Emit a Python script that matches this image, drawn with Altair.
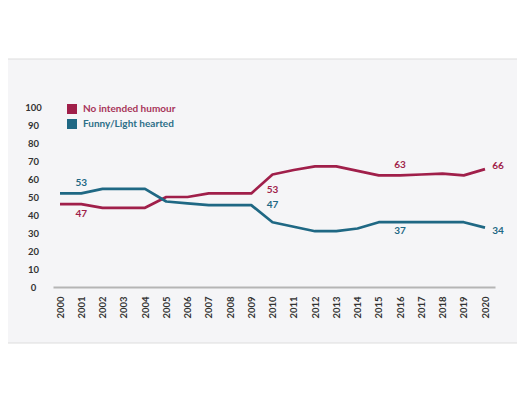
import altair as alt
import pandas as pd

years = list(range(2000, 2021))
no_humour = [46, 46, 44, 44, 44, 50, 50, 52, 52, 52, 62.5, 65, 67, 67, 64.5, 62, 62, 62.5, 63, 62, 65.5]
funny = [52, 52, 54.5, 54.5, 54.5, 47.5, 46.5, 45.5, 45.5, 45.5, 36, 33.5, 31, 31, 32.5, 36, 36, 36, 36, 36, 33]
series_names = ["No intended humour", "Funny/Light hearted"]
series_colors = ["#a01f4a", "#1f6884"]
legend_text_colors = ["#a8345a", "#2c6f88"]
y_ticks = [0, 10, 20, 30, 40, 50, 60, 70, 80, 90, 100]

label_series = ["Funny/Light hearted", "No intended humour", "No intended humour", "Funny/Light hearted",
                "No intended humour", "Funny/Light hearted", "No intended humour", "Funny/Light hearted"]
label_years = [2001, 2001, 2010, 2010, 2016, 2016, 2020, 2020]
label_texts = ["53", "47", "53", "47", "63", "37", "66", "34"]
# label offsets (style only)
label_dx = [0, 0, 0, 0, 0, 0, 13, 13]
label_dy = [-10, 10, 15, -17, -10, 8.5, -3, 3]

FONT = "Lato"
W, H = 442, 180

df = pd.DataFrame({
    "year": years * 2,
    "value": no_humour + funny,
    "series": [series_names[0]] * len(years) + [series_names[1]] * len(years),
})
lookup = {(s, y): v for s, y, v in zip(df["series"], df["year"], df["value"])}

xscale = alt.Scale(domain=[1999.67, 2020.47], nice=False, zero=False)
yscale = alt.Scale(domain=[0, 100], nice=False)
cscale = alt.Scale(domain=series_names, range=series_colors)

x_axis = alt.Axis(values=years, format="d", labelAngle=-90, title=None, grid=False,
                  ticks=False, labelPadding=9, labelFont=FONT, labelFontWeight="bold",
                  labelFontSize=9.5, labelColor="#333333", domainColor="#b5b5b5",
                  domainWidth=2, zindex=1, labelOverlap=False)
y_axis = alt.Axis(values=y_ticks, title=None, grid=False, ticks=False,
                  domain=False, labelAlign="center", labelPadding=20, labelFont=FONT,
                  labelFontWeight="bold", labelFontSize=9.5, labelColor="#333333",
                  zindex=1, labelOverlap=False)

panel = alt.Chart(pd.DataFrame({"a": [0]})).mark_rect(
    fill="#f5f5f7", stroke="#dddddd", strokeWidth=1
).encode(x=alt.value(-46), x2=alt.value(466), y=alt.value(-48), y2=alt.value(236))

lines = alt.Chart(df).mark_line(strokeWidth=2.7, strokeJoin="round").encode(
    x=alt.X("year:Q", scale=xscale, axis=x_axis),
    y=alt.Y("value:Q", scale=yscale, axis=y_axis),
    stroke=alt.Stroke("series:N", scale=cscale, legend=None),
    detail="series:N",
)

layers = [panel, lines]

# manual legend (squares + coloured labels)
legend_rows = [2, 17]
for name, col, tcol, ry in zip(series_names, series_colors, legend_text_colors, legend_rows):
    ldf = pd.DataFrame({"name": [name]})
    layers.append(alt.Chart(ldf).mark_square(size=100, fill=col, opacity=1, filled=True).encode(
        x=alt.value(19), y=alt.value(ry)))
    layers.append(alt.Chart(ldf).mark_text(font=FONT, fontWeight="bold", fontSize=10, color=tcol,
                                           align="left", baseline="middle").encode(
        x=alt.value(30), y=alt.value(ry), text="name:N"))

for s, yv, t, dx, dy in zip(label_series, label_years, label_texts, label_dx, label_dy):
    ldf = pd.DataFrame({"year": [yv], "value": [lookup[(s, yv)]], "text": [t], "series": [s]})
    layers.append(
        alt.Chart(ldf).mark_text(font=FONT, fontWeight="bold", fontSize=10, dx=dx, dy=dy,
                                 baseline="middle", align="center").encode(
            x=alt.X("year:Q", scale=xscale, axis=x_axis),
            y=alt.Y("value:Q", scale=yscale, axis=y_axis),
            text="text:N",
            fill=alt.Fill("series:N", scale=cscale, legend=None),
        )
    )

chart = alt.layer(*layers).properties(
    width=W, height=H,
    autosize=alt.AutoSizeParams(type="none"),
    padding={"left": 45, "top": 99, "right": 22, "bottom": 95},
    background="white",
).configure_view(stroke=None).configure_axis(labelOverlap=False)

chart.save("out.html", embed_options={"renderer": "svg", "actions": False})
